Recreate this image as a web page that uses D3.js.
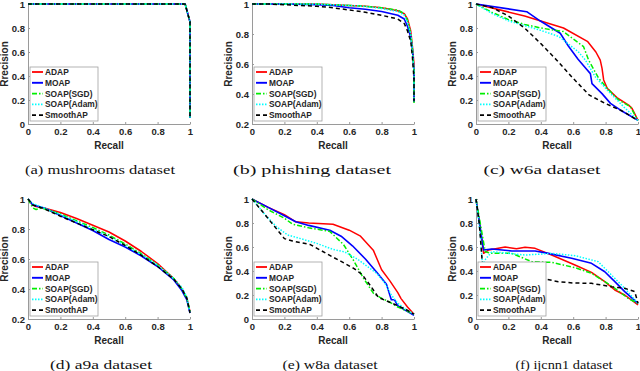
<!DOCTYPE html>
<html><head><meta charset="utf-8">
<script src="https://cdn.jsdelivr.net/npm/d3@7/dist/d3.min.js"></script>
<style>body{margin:0;background:#fff;} svg{display:block;}</style>
</head><body><svg id="c" width="640" height="371"></svg>
<script>
// ---------- data ----------
const seriesNames = ["ADAP", "MOAP", "SOAP(SGD)", "SOAP(Adam)", "SmoothAP"];
const captions = ["(a) mushrooms dataset", "(b) phishing dataset", "(c) w6a dataset",
                  "(d) a9a dataset", "(e) w8a dataset", "(f) ijcnn1 dataset"];
const xTickValues = [0, 0.2, 0.4, 0.6, 0.8, 1];
const yTicksFrom0 = [0, 0.2, 0.4, 0.6, 0.8, 1];
const yTicksFrom02 = [0.2, 0.4, 0.6, 0.8, 1];
const xLabel = "Recall";
const yLabel = "Rrecision";

// [recall, precision] pairs
const mushroomsADAP = [[0,1],[0.97,1],[1,0.85],[1,0.05]];
const mushroomsMOAP = [[0,1],[0.97,1],[1,0.85],[1,0.05]];
const mushroomsSGD = [[0,1],[0.97,1],[1,0.85],[1,0.05]];
const mushroomsAdam = [[0,1],[0.97,1],[1,0.85],[1,0.05]];
const mushroomsSmooth = [[0,1],[0.97,1],[1,0.85],[1,0.05]];

const phishingADAP = [[0,1],[0.2,1],[0.4,1],[0.6,0.99],[0.7,0.985],[0.8,0.975],[0.9,0.955],[0.94,0.935],[0.96,0.9],[0.98,0.82],[0.99,0.72],[1,0.6],[1,0.35]];
const phishingMOAP = [[0,1],[0.2,1],[0.4,0.995],[0.5,0.99],[0.6,0.975],[0.7,0.965],[0.8,0.95],[0.9,0.925],[0.94,0.9],[0.96,0.85],[0.98,0.78],[0.99,0.7],[1,0.55],[1,0.35]];
const phishingSGD = [[0,1],[0.4,1],[0.6,0.99],[0.7,0.985],[0.8,0.975],[0.9,0.96],[0.94,0.935],[0.96,0.89],[0.98,0.8],[0.99,0.7],[1,0.55],[1,0.34]];
const phishingAdam = [[0,1],[0.4,1],[0.6,0.99],[0.7,0.983],[0.8,0.97],[0.9,0.95],[0.94,0.925],[0.96,0.88],[0.98,0.8],[0.99,0.7],[1,0.55],[1,0.34]];
const phishingSmooth = [[0,1],[0.1,1],[0.2,0.995],[0.3,0.99],[0.4,0.985],[0.5,0.975],[0.6,0.96],[0.7,0.945],[0.8,0.925],[0.9,0.9],[0.94,0.87],[0.96,0.82],[0.98,0.75],[0.99,0.65],[1,0.5],[1,0.35]];

const w6aADAP = [[0,1],[0.3,0.9],[0.54,0.8],[0.69,0.686],[0.74,0.6],[0.767,0.533],[0.778,0.464],[0.788,0.367],[0.81,0.297],[0.87,0.22],[0.942,0.158],[0.963,0.13],[1,0.03]];
const w6aMOAP = [[0,1],[0.313,0.936],[0.395,0.86],[0.52,0.756],[0.57,0.65],[0.63,0.54],[0.68,0.46],[0.706,0.42],[0.716,0.336],[0.778,0.253],[0.83,0.172],[0.89,0.117],[1,0.03]];
const w6aSGD = [[0,1],[0.1,0.93],[0.2,0.87],[0.3,0.83],[0.4,0.8],[0.54,0.77],[0.664,0.644],[0.695,0.533],[0.757,0.381],[0.81,0.297],[0.88,0.2],[0.953,0.144],[1,0.03]];
const w6aAdam = [[0,1],[0.1,0.92],[0.2,0.86],[0.3,0.82],[0.4,0.78],[0.51,0.73],[0.631,0.603],[0.675,0.533],[0.736,0.394],[0.81,0.283],[0.911,0.144],[1,0.03]];
const w6aSmooth = [[0,1],[0.1,0.97],[0.2,0.9],[0.3,0.8],[0.4,0.67],[0.5,0.53],[0.6,0.38],[0.7,0.24],[0.8,0.17],[0.9,0.11],[1,0.03]];

const a9aADAP = [[0,1],[0.03,0.96],[0.05,0.95],[0.1,0.94],[0.2,0.91],[0.3,0.87],[0.4,0.825],[0.5,0.78],[0.6,0.72],[0.7,0.65],[0.8,0.57],[0.9,0.47],[0.95,0.4],[0.98,0.34],[1,0.25]];
const a9aMOAP = [[0,1],[0.03,0.96],[0.1,0.94],[0.2,0.89],[0.3,0.84],[0.4,0.79],[0.5,0.73],[0.6,0.68],[0.7,0.62],[0.8,0.55],[0.9,0.46],[0.95,0.39],[0.98,0.33],[1,0.24]];
const a9aSGD = [[0,1],[0.03,0.94],[0.05,0.93],[0.08,0.94],[0.1,0.935],[0.2,0.9],[0.3,0.855],[0.4,0.81],[0.5,0.76],[0.6,0.7],[0.7,0.635],[0.8,0.56],[0.9,0.47],[0.95,0.4],[0.98,0.34],[1,0.25]];
const a9aAdam = [[0,1],[0.03,0.97],[0.1,0.94],[0.2,0.895],[0.3,0.85],[0.4,0.8],[0.5,0.75],[0.6,0.69],[0.7,0.63],[0.8,0.56],[0.9,0.47],[0.95,0.41],[0.98,0.35],[1,0.24]];
const a9aSmooth = [[0,1],[0.03,0.96],[0.1,0.935],[0.2,0.885],[0.3,0.84],[0.4,0.795],[0.5,0.75],[0.6,0.69],[0.7,0.625],[0.8,0.55],[0.9,0.465],[0.95,0.4],[0.98,0.34],[1,0.24]];

const w8aADAP = [[0,1],[0.1,0.93],[0.2,0.87],[0.27,0.81],[0.35,0.8],[0.5,0.79],[0.6,0.74],[0.67,0.69],[0.75,0.57],[0.8,0.41],[0.85,0.32],[0.9,0.22],[0.92,0.17],[0.96,0.1],[1,0.04]];
const w8aMOAP = [[0,1],[0.1,0.93],[0.2,0.86],[0.27,0.81],[0.35,0.78],[0.48,0.74],[0.55,0.69],[0.62,0.61],[0.7,0.5],[0.77,0.39],[0.83,0.29],[0.86,0.16],[0.88,0.16],[0.9,0.11],[0.95,0.07],[1,0.03]];
const w8aSGD = [[0,1],[0.1,0.91],[0.2,0.84],[0.25,0.79],[0.35,0.76],[0.48,0.73],[0.565,0.62],[0.626,0.49],[0.688,0.34],[0.729,0.256],[0.75,0.214],[0.79,0.18],[0.85,0.14],[0.9,0.1],[0.95,0.07],[1,0.04]];
const w8aAdam = [[0,1],[0.08,0.87],[0.15,0.77],[0.22,0.7],[0.3,0.67],[0.4,0.63],[0.5,0.58],[0.57,0.56],[0.65,0.5],[0.7,0.45],[0.77,0.38],[0.82,0.3],[0.86,0.2],[0.9,0.13],[0.95,0.08],[1,0.04]];
const w8aSmooth = [[0,1],[0.08,0.87],[0.2,0.67],[0.25,0.65],[0.36,0.62],[0.48,0.53],[0.55,0.48],[0.63,0.42],[0.68,0.37],[0.73,0.28],[0.78,0.18],[0.85,0.14],[0.9,0.11],[0.95,0.08],[1,0.04]];

const ijcnn1ADAP = [[0,1],[0.047,0.547],[0.078,0.575],[0.18,0.6],[0.25,0.585],[0.303,0.597],[0.365,0.589],[0.467,0.533],[0.611,0.45],[0.713,0.389],[0.795,0.311],[0.857,0.242],[0.918,0.2],[1,0.117]];
const ijcnn1MOAP = [[0,1],[0.047,0.575],[0.098,0.583],[0.221,0.567],[0.365,0.567],[0.447,0.547],[0.59,0.506],[0.713,0.464],[0.795,0.394],[0.857,0.311],[0.918,0.228],[1,0.13]];
const ijcnn1SGD = [[0,1],[0.057,0.561],[0.098,0.547],[0.221,0.547],[0.344,0.478],[0.467,0.472],[0.611,0.428],[0.713,0.381],[0.795,0.311],[0.857,0.256],[0.939,0.172],[1,0.13]];
const ijcnn1Adam = [[0,1],[0.027,0.7],[0.04,0.45],[0.06,0.5],[0.098,0.561],[0.303,0.533],[0.467,0.547],[0.611,0.528],[0.754,0.478],[0.836,0.367],[0.918,0.256],[1,0.13]];
const ijcnn1Smooth = [[0,1],[0.02,0.8],[0.04,0.45],[0.05,0.37],[0.1,0.36],[0.2,0.35],[0.3,0.35],[0.385,0.344],[0.508,0.311],[0.6,0.3],[0.713,0.297],[0.836,0.269],[0.918,0.256],[0.98,0.228],[1,0.13]];

// ---------- layout / style ----------
const colors = ["#ff0000", "#0000ff", "#00ee00", "#00ffff", "#000000"];
const dashes = [null, null, "5,2,1.5,2", "1.5,1.5", "4,3"];
const widths = [1.5, 1.6, 1.5, 1.5, 1.5];

const panels = [
  {series:[mushroomsADAP,mushroomsMOAP,mushroomsSGD,mushroomsAdam,mushroomsSmooth], yMin:0, yTicks:yTicksFrom0},
  {series:[phishingADAP,phishingMOAP,phishingSGD,phishingAdam,phishingSmooth], yMin:0.2, yTicks:yTicksFrom02},
  {series:[w6aADAP,w6aMOAP,w6aSGD,w6aAdam,w6aSmooth], yMin:0, yTicks:yTicksFrom0},
  {series:[a9aADAP,a9aMOAP,a9aSGD,a9aAdam,a9aSmooth], yMin:0.2, yTicks:yTicksFrom02},
  {series:[w8aADAP,w8aMOAP,w8aSGD,w8aAdam,w8aSmooth], yMin:0, yTicks:yTicksFrom0},
  {series:[ijcnn1ADAP,ijcnn1MOAP,ijcnn1SGD,ijcnn1Adam,ijcnn1Smooth], yMin:0, yTicks:yTicksFrom0}
];
const lefts = [28, 252, 476];
const tops = [4, 199];
const pw = 162, ph = 120;
const captionCx = [100, 312, 542, 101, 330, 564];
const captionW = [150, 158, 117, 102, 95, 97];
const captionY = [174, 369];

const svg = d3.select("#c");
svg.append("rect").attr("width",640).attr("height",371).attr("fill","#fff");
const fmt = d => d === 0 ? "0" : d === 1 ? "1" : d.toFixed(1);

panels.forEach((p, i) => {
  const col = i % 3, row = Math.floor(i / 3);
  const L = lefts[col], T = tops[row];
  const x = d3.scaleLinear().domain([0,1]).range([L, L+pw]);
  const y = d3.scaleLinear().domain([p.yMin,1]).range([T+ph, T]);
  const g = svg.append("g");

  // axes
  const ax = g.append("g").attr("transform",`translate(0,${T+ph})`)
    .call(d3.axisBottom(x).tickValues(xTickValues).tickFormat(fmt).tickSizeInner(-2).tickSizeOuter(0).tickPadding(4));
  const ay = g.append("g").attr("transform",`translate(${L},0)`)
    .call(d3.axisLeft(y).tickValues(p.yTicks).tickFormat(fmt).tickSizeInner(-2).tickSizeOuter(0).tickPadding(3));
  [ax, ay].forEach(a => {
    a.select(".domain").attr("stroke","#9a9a9a").attr("stroke-width",1);
    a.selectAll(".tick line").attr("stroke","#9a9a9a");
    a.selectAll("text").attr("fill","#262626").attr("font-family","'Liberation Sans', Arial, sans-serif")
      .attr("font-weight","bold").attr("font-size",9.5);
  });

  // lines
  const line = d3.line().x(d => x(d[0])).y(d => y(d[1]));
  p.series.forEach((s, k) => {
    g.append("path").datum(s).attr("d", line).attr("fill","none")
      .attr("stroke", colors[k]).attr("stroke-width", widths[k])
      .attr("stroke-dasharray", dashes[k]).attr("stroke-linejoin","round");
  });

  // axis labels
  g.append("text").attr("x", L+pw/2).attr("y", T+ph+25).attr("text-anchor","middle")
    .attr("font-family","'Liberation Sans', Arial, sans-serif").attr("font-weight","bold")
    .attr("font-size",10).attr("fill","#262626").text(xLabel);
  g.append("text").attr("transform",`translate(${L-20},${T+ph/2}) rotate(-90)`).attr("text-anchor","middle")
    .attr("font-family","'Liberation Sans', Arial, sans-serif").attr("font-weight","bold")
    .attr("font-size",10).attr("fill","#262626").text(yLabel);

  // legend
  const lx = L+2, ly = T+ph-57;
  const lg = g.append("g");
  lg.append("rect").attr("x",lx).attr("y",ly).attr("width",68).attr("height",54)
    .attr("fill","#fff").attr("stroke","#a0a0a0").attr("stroke-width",0.8);
  seriesNames.forEach((n, k) => {
    const yy = ly + 5 + k*10.8;
    lg.append("line").attr("x1",lx+2).attr("x2",lx+13).attr("y1",yy).attr("y2",yy)
      .attr("stroke",colors[k]).attr("stroke-width",widths[k]+0.3).attr("stroke-dasharray",dashes[k]);
    lg.append("text").attr("x",lx+15).attr("y",yy).attr("dy","0.35em")
      .attr("font-family","'Liberation Sans', Arial, sans-serif").attr("font-weight","bold")
      .attr("font-size",8.4).attr("fill","#262626").text(n);
  });

  // caption
  svg.append("text").attr("x",captionCx[i]).attr("y",captionY[row]).attr("text-anchor","middle")
    .attr("font-family","'Liberation Serif', 'Times New Roman', serif").attr("font-size",13)
    .attr("textLength",captionW[i]).attr("lengthAdjust","spacingAndGlyphs")
    .attr("fill","#111").text(captions[i]);
});
</script></body></html>
